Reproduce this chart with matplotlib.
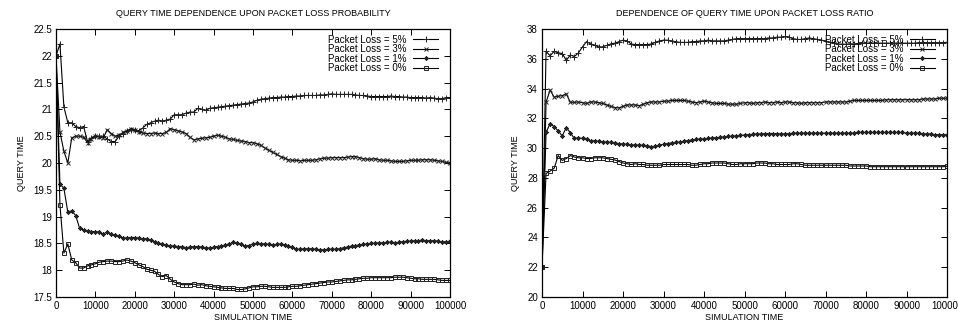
import matplotlib
matplotlib.use('Agg')
import matplotlib.pyplot as plt
import numpy as np
from matplotlib.ticker import FormatStrFormatter

plt.rcParams['font.family'] = ['Liberation Sans', 'DejaVu Sans']

# simulation time, one sample every 1000
sim_time = np.arange(0, 100001, 1000)
series_labels = ['Packet Loss = 5%', 'Packet Loss = 3%', 'Packet Loss = 1%', 'Packet Loss = 0%']

# left chart: query time dependence upon packet loss probability
left_5 = [22.0, 22.22, 21.05, 20.75, 20.75, 20.68, 20.66, 20.68, 20.40, 20.47,
          20.50, 20.50, 20.50, 20.45, 20.40, 20.40, 20.50, 20.55, 20.60, 20.62,
          20.62, 20.60, 20.65, 20.72, 20.75, 20.78, 20.80, 20.78, 20.80, 20.82,
          20.90, 20.90, 20.90, 20.93, 20.95, 20.95, 21.02, 21.00, 20.98, 21.02,
          21.03, 21.04, 21.05, 21.06, 21.07, 21.08, 21.09, 21.10, 21.11, 21.12,
          21.14, 21.17, 21.19, 21.20, 21.21, 21.22, 21.22, 21.23, 21.23, 21.24,
          21.24, 21.25, 21.25, 21.26, 21.26, 21.26, 21.26, 21.27, 21.27, 21.28,
          21.29, 21.28, 21.28, 21.28, 21.28, 21.28, 21.27, 21.26, 21.26, 21.25,
          21.24, 21.24, 21.24, 21.24, 21.24, 21.25, 21.24, 21.24, 21.23, 21.23,
          21.22, 21.22, 21.22, 21.22, 21.21, 21.22, 21.21, 21.20, 21.20, 21.22, 21.22]
left_3 = [22.0, 20.58, 20.22, 20.00, 20.47, 20.50, 20.50, 20.48, 20.38, 20.45,
          20.50, 20.48, 20.47, 20.62, 20.55, 20.50, 20.52, 20.57, 20.60, 20.64,
          20.62, 20.58, 20.56, 20.55, 20.55, 20.56, 20.55, 20.55, 20.57, 20.64,
          20.62, 20.60, 20.58, 20.55, 20.48, 20.43, 20.45, 20.46, 20.47, 20.48,
          20.50, 20.52, 20.50, 20.48, 20.45, 20.44, 20.42, 20.41, 20.40, 20.38,
          20.38, 20.36, 20.33, 20.28, 20.24, 20.20, 20.16, 20.12, 20.09, 20.06,
          20.05, 20.05, 20.04, 20.05, 20.05, 20.05, 20.06, 20.08, 20.09, 20.09,
          20.10, 20.10, 20.10, 20.10, 20.11, 20.12, 20.12, 20.10, 20.08, 20.07,
          20.07, 20.08, 20.06, 20.05, 20.05, 20.04, 20.03, 20.03, 20.03, 20.04,
          20.05, 20.05, 20.05, 20.06, 20.06, 20.06, 20.05, 20.04, 20.03, 20.01, 20.00]
left_1 = [22.0, 19.61, 19.53, 19.08, 19.11, 19.02, 18.78, 18.75, 18.73, 18.72,
          18.72, 18.71, 18.67, 18.72, 18.67, 18.66, 18.63, 18.60, 18.60, 18.61,
          18.61, 18.60, 18.58, 18.59, 18.56, 18.52, 18.50, 18.48, 18.47, 18.45,
          18.45, 18.44, 18.44, 18.42, 18.43, 18.44, 18.44, 18.43, 18.42, 18.41,
          18.43, 18.44, 18.45, 18.47, 18.49, 18.52, 18.50, 18.48, 18.45, 18.46,
          18.49, 18.50, 18.49, 18.49, 18.48, 18.47, 18.48, 18.49, 18.47, 18.45,
          18.43, 18.39, 18.39, 18.40, 18.40, 18.40, 18.39, 18.38, 18.38, 18.39,
          18.39, 18.39, 18.40, 18.42, 18.43, 18.45, 18.46, 18.47, 18.48, 18.49,
          18.50, 18.50, 18.51, 18.51, 18.52, 18.52, 18.51, 18.52, 18.53, 18.54,
          18.54, 18.55, 18.55, 18.56, 18.55, 18.55, 18.55, 18.54, 18.53, 18.53, 18.54]
left_0 = [22.0, 19.22, 18.32, 18.49, 18.19, 18.14, 18.04, 18.04, 18.08, 18.10,
          18.12, 18.15, 18.16, 18.17, 18.17, 18.16, 18.16, 18.17, 18.19, 18.17,
          18.14, 18.10, 18.07, 18.02, 18.00, 17.98, 17.92, 17.88, 17.90, 17.83,
          17.78, 17.75, 17.73, 17.73, 17.73, 17.74, 17.72, 17.73, 17.71, 17.70,
          17.69, 17.68, 17.67, 17.66, 17.66, 17.66, 17.64, 17.64, 17.65, 17.67,
          17.69, 17.69, 17.70, 17.70, 17.69, 17.68, 17.68, 17.68, 17.68, 17.69,
          17.70, 17.70, 17.71, 17.72, 17.73, 17.74, 17.75, 17.76, 17.77, 17.78,
          17.78, 17.79, 17.80, 17.81, 17.82, 17.82, 17.83, 17.84, 17.85, 17.85,
          17.86, 17.86, 17.86, 17.86, 17.86, 17.86, 17.87, 17.87, 17.87, 17.86,
          17.85, 17.84, 17.84, 17.83, 17.83, 17.83, 17.83, 17.82, 17.81, 17.81, 17.81]

# right chart: dependence of query time upon packet loss ratio
right_5 = [22.0, 36.50, 36.20, 36.50, 36.40, 36.35, 35.90, 36.25, 36.15, 36.40,
           36.80, 37.15, 37.00, 36.90, 36.80, 36.80, 36.90, 37.00, 37.05, 37.15,
           37.25, 37.20, 37.00, 36.95, 36.95, 36.95, 36.95, 37.00, 37.10, 37.20,
           37.25, 37.25, 37.20, 37.15, 37.10, 37.10, 37.10, 37.15, 37.15, 37.20,
           37.20, 37.25, 37.20, 37.20, 37.20, 37.20, 37.25, 37.30, 37.35, 37.35,
           37.35, 37.35, 37.35, 37.35, 37.35, 37.35, 37.40, 37.40, 37.45, 37.45,
           37.50, 37.45, 37.35, 37.30, 37.30, 37.35, 37.40, 37.35, 37.30, 37.25,
           37.20, 37.10, 37.05, 37.00, 36.98, 36.98, 37.00, 37.00, 37.02, 37.05,
           37.05, 37.05, 37.05, 37.05, 37.05, 37.05, 37.05, 37.05, 37.05, 37.05,
           37.05, 37.05, 37.05, 37.08, 37.08, 37.08, 37.08, 37.08, 37.08, 37.08, 37.10]
right_3 = [22.0, 33.08, 33.90, 33.42, 33.48, 33.53, 33.64, 33.08, 33.08, 33.10,
           33.05, 33.00, 33.10, 33.10, 33.05, 33.00, 32.90, 32.80, 32.72, 32.70,
           32.80, 32.90, 32.90, 32.90, 32.85, 32.95, 33.05, 33.10, 33.10, 33.10,
           33.15, 33.15, 33.20, 33.20, 33.20, 33.20, 33.15, 33.10, 33.05, 33.10,
           33.15, 33.10, 33.05, 33.00, 33.00, 33.00, 32.95, 32.95, 32.95, 33.00,
           33.05, 33.05, 33.00, 33.05, 33.05, 33.10, 33.05, 33.05, 33.10, 33.05,
           33.10, 33.10, 33.05, 33.05, 33.00, 33.05, 33.05, 33.05, 33.05, 33.05,
           33.10, 33.10, 33.10, 33.10, 33.10, 33.10, 33.15, 33.20, 33.20, 33.20,
           33.20, 33.20, 33.20, 33.20, 33.20, 33.25, 33.25, 33.25, 33.25, 33.25,
           33.25, 33.25, 33.25, 33.25, 33.30, 33.30, 33.30, 33.30, 33.35, 33.35, 33.35]
right_1 = [22.0, 31.05, 31.65, 31.45, 31.15, 30.82, 31.38, 31.03, 30.65, 30.68,
           30.65, 30.60, 30.50, 30.48, 30.45, 30.42, 30.40, 30.38, 30.35, 30.30,
           30.28, 30.25, 30.22, 30.20, 30.20, 30.18, 30.15, 30.10, 30.12, 30.20,
           30.25, 30.30, 30.35, 30.38, 30.40, 30.45, 30.50, 30.55, 30.58, 30.60,
           30.62, 30.65, 30.68, 30.70, 30.72, 30.75, 30.78, 30.80, 30.82, 30.85,
           30.88, 30.90, 30.92, 30.95, 30.95, 30.97, 30.98, 30.98, 30.97, 30.95,
           30.95, 30.97, 31.00, 31.00, 31.00, 31.00, 31.00, 31.00, 31.00, 31.00,
           31.00, 31.00, 31.00, 31.00, 31.00, 31.00, 31.00, 31.00, 31.05, 31.05,
           31.05, 31.05, 31.05, 31.05, 31.05, 31.05, 31.05, 31.05, 31.05, 31.05,
           31.00, 31.00, 31.00, 31.00, 30.95, 30.95, 30.95, 30.90, 30.90, 30.90, 30.90]
right_0 = [22.0, 28.30, 28.45, 28.65, 29.50, 29.17, 29.30, 29.50, 29.40, 29.35,
           29.35, 29.30, 29.30, 29.35, 29.35, 29.35, 29.30, 29.25, 29.20, 29.10,
           29.00, 28.95, 28.90, 28.95, 28.90, 28.90, 28.85, 28.85, 28.85, 28.85,
           28.90, 28.90, 28.90, 28.90, 28.90, 28.90, 28.90, 28.85, 28.85, 28.90,
           28.95, 28.95, 29.00, 29.00, 29.00, 29.00, 28.95, 28.90, 28.90, 28.95,
           28.95, 28.95, 28.95, 29.00, 29.00, 29.00, 28.95, 28.95, 28.90, 28.90,
           28.90, 28.90, 28.95, 28.95, 28.90, 28.85, 28.85, 28.85, 28.85, 28.85,
           28.85, 28.85, 28.85, 28.85, 28.85, 28.85, 28.80, 28.80, 28.80, 28.80,
           28.80, 28.75, 28.75, 28.75, 28.75, 28.75, 28.75, 28.75, 28.75, 28.75,
           28.75, 28.75, 28.75, 28.75, 28.75, 28.75, 28.75, 28.75, 28.75, 28.75, 28.78]

markers = [
    dict(marker='+', markersize=4.5, markeredgewidth=0.7),
    dict(marker='x', markersize=3.5, markeredgewidth=0.7),
    dict(marker=(8, 2, 0), markersize=3.2, markeredgewidth=0.5),
    dict(marker='s', markersize=3.5, markeredgewidth=0.7, markerfacecolor='none'),
]

fig = plt.figure(figsize=(9.58, 3.24), dpi=100)
ax_l = fig.add_axes([56 / 958, 27 / 324, 394 / 958, 268 / 324])
ax_r = fig.add_axes([542 / 958, 27 / 324, 405 / 958, 268 / 324])


def draw(ax, data, title, ylim, yticks):
    for ys, lab, mk in zip(data, series_labels, markers):
        ax.plot(sim_time, ys, color='black', lw=0.8, label=lab,
                markeredgecolor='#222222', **mk)
    ax.set_xlim(0, 100000)
    ax.set_ylim(*ylim)
    ax.set_xticks(np.arange(0, 100001, 10000))
    ax.set_yticks(yticks)
    ax.yaxis.set_major_formatter(FormatStrFormatter('%g'))
    ax.tick_params(direction='in', length=4, width=0.7, top=True, right=True,
                   labelsize=7, pad=3)
    for s in ax.spines.values():
        s.set_linewidth(0.9)
    ax.set_title(title, fontsize=6.5, pad=9)
    ax.set_xlabel('SIMULATION TIME', fontsize=6.5, labelpad=1.5)
    ax.set_ylabel('QUERY TIME', fontsize=6.5, labelpad=5)
    ax.legend(loc='upper right', bbox_to_anchor=(0.985, 1.0), frameon=False,
              markerfirst=False, fontsize=7, handlelength=2.6,
              labelspacing=-0.05, handletextpad=0.7, borderaxespad=0.2,
              numpoints=1)


draw(ax_l, [left_5, left_3, left_1, left_0],
     'QUERY TIME DEPENDENCE UPON PACKET LOSS PROBABILITY',
     (17.5, 22.5), np.arange(17.5, 22.51, 0.5))
draw(ax_r, [right_5, right_3, right_1, right_0],
     'DEPENDENCE OF QUERY TIME UPON PACKET LOSS RATIO',
     (20, 38), np.arange(20, 38.1, 2))

fig.savefig('out.png', dpi=100)
